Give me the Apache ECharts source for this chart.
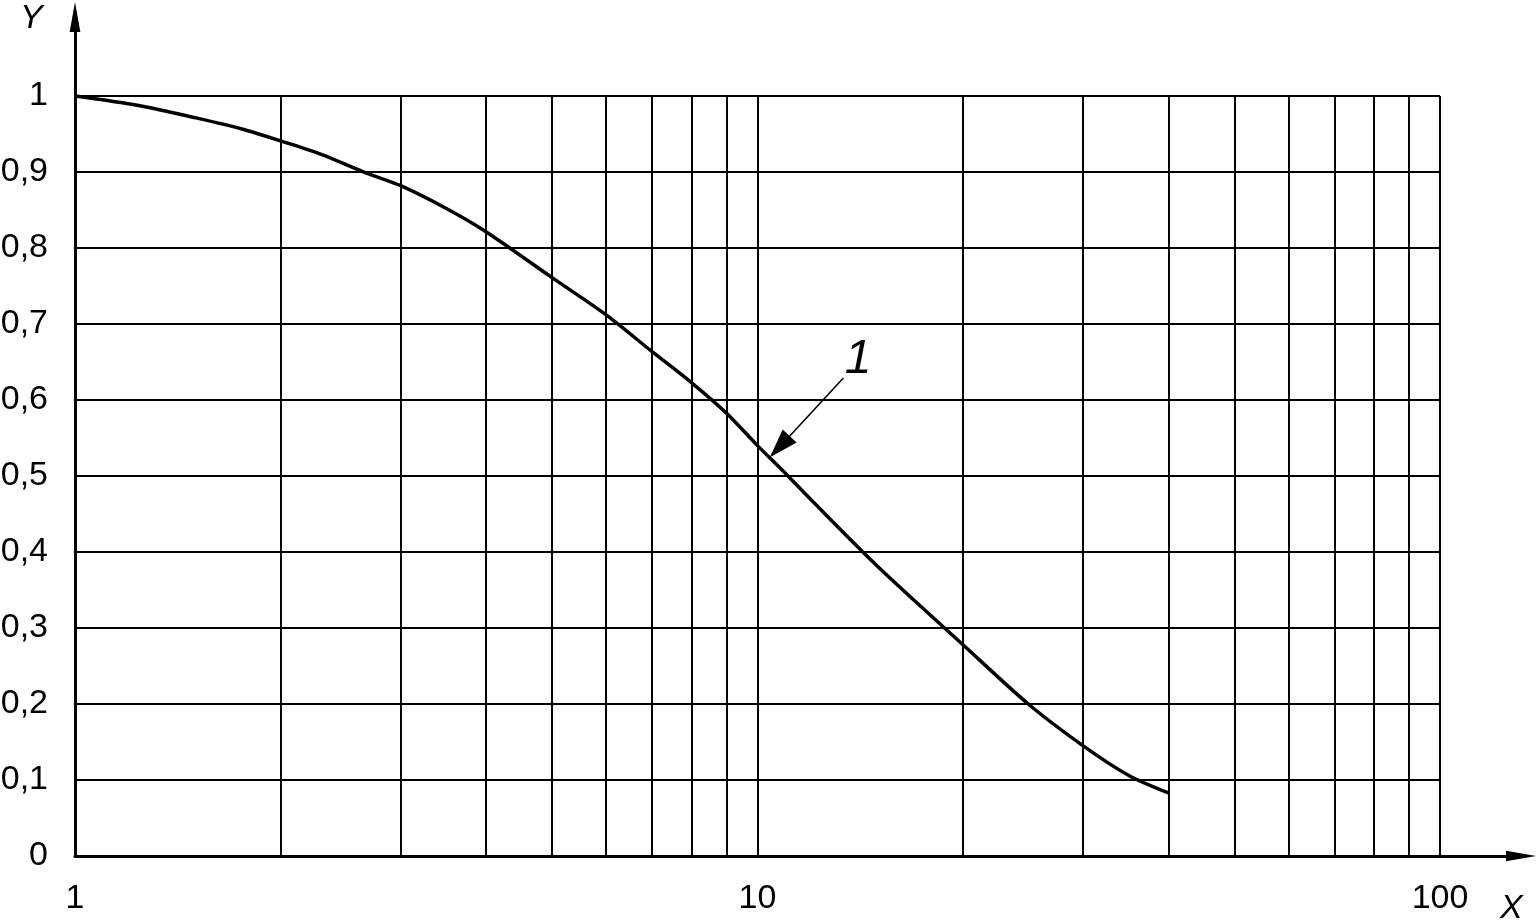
<!DOCTYPE html>
<html><head><meta charset="utf-8">
<script src="https://cdn.jsdelivr.net/npm/echarts@6/dist/echarts.min.js"></script>
<style>html,body{margin:0;padding:0;background:#fff}#c{width:1537px;height:923px}</style>
</head><body><div id="c"></div>
<script>
// ---- data ----
const xValues = [1, 1.25, 1.5, 1.75, 2, 2.3, 2.65, 3, 3.5, 4, 5, 6, 7, 8, 9, 10, 11, 12, 15, 20, 25, 30, 35, 40];
const yValues = [1.0, 0.987, 0.9715, 0.957, 0.941, 0.923, 0.900, 0.882, 0.852, 0.8215, 0.761, 0.712, 0.664, 0.623, 0.583, 0.540, 0.503, 0.468, 0.381, 0.278, 0.199, 0.145, 0.106, 0.083];
const xGridValues = [2, 3, 4, 5, 6, 7, 8, 9, 10, 20, 30, 40, 50, 60, 70, 80, 90, 100];
const yGridValues = [0.1, 0.2, 0.3, 0.4, 0.5, 0.6, 0.7, 0.8, 0.9, 1.0];
const xTickLabels = ['1', '10', '100'];
const yTickLabels = ['0', '0,1', '0,2', '0,3', '0,4', '0,5', '0,6', '0,7', '0,8', '0,9', '1'];
const annotationText = '1';
const annotationFrom = [13.36, 0.629];
const annotationTo = [10.78, 0.5386];
const annotationTextAt = [14.04, 0.653];
const xName = 'X';
const yName = 'Y';
const xMin = 1, xGridMax = 100, yMin = 0, yGridMax = 1;

// ---- chart ----
const FONT = '"Liberation Sans", Arial, sans-serif';
const chart = echarts.init(document.getElementById('c'), null, {renderer: 'canvas'});
const tri = 'path://M5,0 L10,28 L0,28 Z';

const gridLines = [];
xGridValues.forEach(v => gridLines.push([{coord: [v, yMin]}, {coord: [v, yGridMax]}]));
yGridValues.forEach(v => gridLines.push([{coord: [xMin, v]}, {coord: [xGridMax, v]}]));
gridLines.push([
  {coord: annotationFrom, symbol: 'none', lineStyle: {width: 1.6}},
  {coord: annotationTo, symbol: tri, symbolSize: [19, 29]}
]);

chart.setOption({
  animation: false,
  backgroundColor: '#fff',
  grid: {left: 75, right: 16, top: 17, bottom: 67, outerBoundsMode: 'none', containLabel: false},
  xAxis: {
    type: 'log', logBase: 10, min: 1, max: 131.4,
    axisLine: {show: true, lineStyle: {color: '#000', width: 3}, symbol: ['none', tri], symbolSize: [15, 30]},
    axisTick: {show: false},
    splitLine: {show: false},
    minorTick: {show: false},
    axisLabel: {
      color: '#000', fontSize: 34, fontFamily: FONT, margin: 26,
      showMaxLabel: false,
      formatter: v => {
        const l = Math.log10(v), k = Math.round(l);
        return (Math.abs(l - k) < 1e-6 && k >= 0 && k < xTickLabels.length) ? xTickLabels[k] : '';
      }
    }
  },
  yAxis: {
    type: 'value', min: 0, max: 1.104, interval: 0.1,
    axisLine: {show: true, lineStyle: {color: '#000', width: 3}, symbol: ['none', tri], symbolSize: [15, 30]},
    axisTick: {show: false},
    splitLine: {show: false},
    axisLabel: {
      color: '#000', fontSize: 34, fontFamily: FONT, margin: 27,
      showMaxLabel: false,
      formatter: v => {
        const k = Math.round(v * 10);
        return (Math.abs(v * 10 - k) < 1e-6 && k <= 10) ? yTickLabels[k] : '';
      }
    }
  },
  graphic: [
    {type: 'text', left: 20, top: 2, style: {text: yName, font: 'italic 34px ' + FONT, fill: '#000'}},
    {type: 'text', left: 1500, top: 892, style: {text: xName, font: 'italic 34px ' + FONT, fill: '#000'}}
  ],
  series: [{
    type: 'line',
    data: xValues.map((x, i) => [x, yValues[i]]),
    smooth: 0.3,
    showSymbol: false,
    symbol: 'none',
    silent: true,
    lineStyle: {color: '#000', width: 3.5},
    markLine: {
      silent: true, symbol: 'none', animation: false,
      label: {show: false},
      lineStyle: {color: '#000', width: 2, type: 'solid'},
      emphasis: {disabled: true},
      data: gridLines
    },
    markPoint: {
      silent: true, symbol: 'circle', symbolSize: 0,
      label: {show: true, position: 'inside', formatter: annotationText, color: '#000',
        fontSize: 48, fontStyle: 'italic', fontFamily: FONT},
      data: [{coord: annotationTextAt}]
    }
  }]
});
</script>
</body></html>
